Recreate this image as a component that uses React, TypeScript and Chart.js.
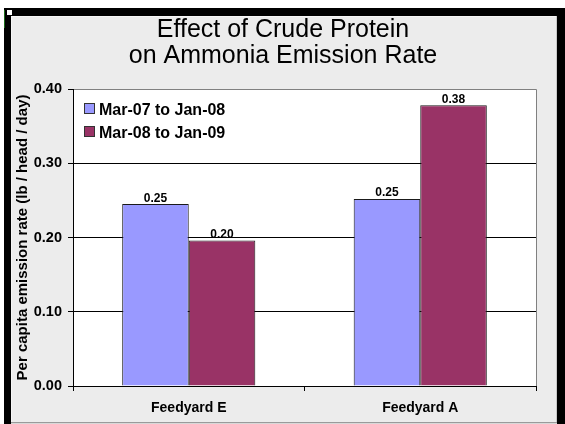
import React, { useEffect, useRef } from 'react';
import { Chart, registerables } from 'chart.js';

Chart.register(...registerables);

const categories = ['Feedyard E', 'Feedyard A'];
const seriesNames = ['Mar-07 to Jan-08', 'Mar-08 to Jan-09'];
const series1 = [0.245, 0.252];
const series2 = [0.196, 0.378];
const labels1 = ['0.25', '0.25'];
const labels2 = ['0.20', '0.38'];
const yTicks = [0, 0.1, 0.2, 0.3, 0.4];
const titleLines = ['Effect of Crude Protein', 'on Ammonia Emission Rate'];
const yTitle = 'Per capita emission rate (lb / head / day)';
const colors = ['#9999FF', '#993366'];

const FONT = "'Liberation Sans', Arial, Helvetica, sans-serif";

const framePlugin = {
  id: 'frame',
  beforeDraw(chart: any) {
    const ctx = chart.ctx;
    const W = chart.width;
    const H = chart.height;
    ctx.save();
    ctx.fillStyle = '#ffffff';
    ctx.fillRect(0, 0, W, H);
    ctx.fillStyle = '#000000';
    ctx.fillRect(4, 8, W - 4, 8);
    ctx.fillRect(4, 8, 7, H - 8);
    ctx.fillRect(557, 8, W - 557, H - 8);
    ctx.fillStyle = '#ececec';
    ctx.fillRect(11, 16, 546, 406);
    ctx.fillStyle = '#f6f6f6';
    ctx.fillRect(11, 16, 546, 1);
    ctx.fillRect(11, 16, 1, 406);
    ctx.fillStyle = '#c8c8c8';
    ctx.fillRect(556, 16, 1, 406);
    ctx.fillStyle = '#9a9a9a';
    ctx.fillRect(11, 422, 546, 1);
    ctx.fillStyle = '#d8d8d8';
    ctx.fillRect(11, 423, 546, 1);
    ctx.fillStyle = '#1a6a1a';
    ctx.fillRect(4, 10, 1, 18);
    ctx.fillStyle = '#ffffff';
    ctx.fillRect(7, 10, 5, 5);
    const ca = chart.chartArea;
    ctx.fillStyle = '#ffffff';
    ctx.fillRect(ca.left, ca.top, ca.right - ca.left, ca.bottom - ca.top);
    ctx.strokeStyle = '#808080';
    ctx.lineWidth = 1;
    ctx.beginPath();
    ctx.moveTo(ca.left, Math.round(ca.top) + 0.5);
    ctx.lineTo(Math.round(ca.right) + 0.5, Math.round(ca.top) + 0.5);
    ctx.lineTo(Math.round(ca.right) + 0.5, ca.bottom);
    ctx.stroke();
    ctx.restore();
  },
};

const overlayPlugin = {
  id: 'overlay',
  afterDraw(chart: any) {
    const ctx = chart.ctx;
    const ca = chart.chartArea;
    ctx.save();
    // data labels
    ctx.font = `bold 12px ${FONT}`;
    ctx.fillStyle = '#000';
    ctx.textAlign = 'center';
    ctx.textBaseline = 'alphabetic';
    const lbls = [labels1, labels2];
    [0, 1].forEach((di) => {
      const meta = chart.getDatasetMeta(di);
      meta.data.forEach((el: any, j: number) => {
        ctx.fillText(lbls[di][j], el.x, el.y - 2.5);
      });
    });
    // legend
    ctx.font = `bold 16px ${FONT}`;
    ctx.textAlign = 'left';
    seriesNames.forEach((name, i) => {
      const bx = Math.round(ca.left + 11);
      const by = Math.round(ca.top + 14 + i * 22.5);
      ctx.fillStyle = colors[i];
      ctx.fillRect(bx, by, 11, 11);
      ctx.strokeStyle = '#333';
      ctx.lineWidth = 1;
      ctx.strokeRect(bx + 0.5, by + 0.5, 10, 10);
      ctx.fillStyle = '#000';
      ctx.fillText(name, bx + 15, by + 12);
    });
    ctx.restore();
  },
};

export default function App() {
  const ref = useRef<HTMLCanvasElement | null>(null);
  useEffect(() => {
    document.body.style.margin = '0';
    if (!ref.current) return;
    const chart = new Chart(ref.current, {
      type: 'bar',
      data: {
        labels: categories,
        datasets: [
          {
            label: seriesNames[0],
            data: series1,
            backgroundColor: colors[0],
            borderColor: '#1a1a1a',
            borderWidth: 1,
            yAxisID: 'y',
            categoryPercentage: 0.575,
            barPercentage: 1,
          },
          {
            label: seriesNames[1],
            data: series2,
            backgroundColor: colors[1],
            borderColor: '#1a1a1a',
            borderWidth: 1,
            yAxisID: 'y',
            categoryPercentage: 0.575,
            barPercentage: 1,
          },
        ],
      },
      options: {
        responsive: false,
        animation: false,
        devicePixelRatio: 1,
        layout: { padding: { left: 10, right: 9, top: 15, bottom: 8 } },
        plugins: {
          legend: { display: false },
          tooltip: { enabled: false },
          title: {
            display: true,
            text: titleLines,
            color: '#000',
            font: { family: FONT, size: 25, weight: 'normal', lineHeight: 1.068 },
            padding: { top: 1.3, bottom: 19.3 },
          },
        },
        scales: {
          y: {
            type: 'linear',
            position: 'left',
            min: 0,
            max: 0.4,
            afterBuildTicks: (s: any) => {
              s.ticks = yTicks.map((v) => ({ value: v }));
            },
            afterFit: (s: any) => {
              s.width = 63;
            },
            ticks: {
              callback: (v: any) => Number(v).toFixed(2),
              font: { family: FONT, size: 14.5, weight: 'bold' },
              color: '#000',
              padding: 6,
            },
            grid: {
              color: (c: any) => (c.tick && Math.abs(c.tick.value - 0.4) < 1e-9 ? '#808080' : '#000'),
              tickColor: '#000',
              tickLength: 5,
              lineWidth: 1,
            },
            border: { color: '#000', width: 1 },
            title: {
              display: true,
              text: yTitle,
              color: '#000',
              font: { family: FONT, size: 15, weight: 'bold' },
              padding: { top: 4, bottom: 0 },
            },
          },
          yR: {
            type: 'linear',
            position: 'right',
            display: true,
            grid: { display: false },
            ticks: { display: false },
            border: { display: false },
            afterFit: (s: any) => {
              s.width = 20;
            },
          },
          x: {
            afterFit: (s: any) => {
              s.height = 30;
            },
            ticks: {
              font: { family: FONT, size: 14, weight: 'bold' },
              color: '#000',
              padding: 9,
            },
            grid: {
              offset: true,
              drawOnChartArea: false,
              drawTicks: true,
              tickLength: 5,
              color: '#000',
            },
            border: { color: '#000', width: 1 },
          },
        },
      } as any,
      plugins: [framePlugin, overlayPlugin],
    });
    return () => chart.destroy();
  }, []);
  return (
    <div style={{ width: 565, height: 424 }}>
      <canvas ref={ref} width={565} height={424} style={{ display: 'block' }} />
    </div>
  );
}
